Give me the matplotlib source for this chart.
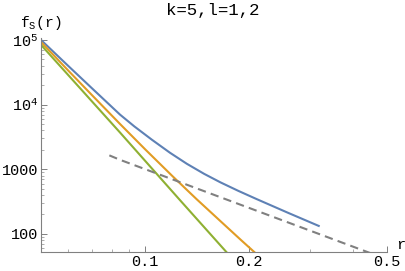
import numpy as np
import matplotlib
matplotlib.use('Agg')
import matplotlib.pyplot as plt
from matplotlib.ticker import FixedLocator, NullFormatter

# values (log-log)
blue_r = [0.05, 0.06, 0.07, 0.0846, 0.093, 0.1046, 0.118, 0.132, 0.148, 0.165,
          0.186, 0.2105, 0.26, 0.3175]
blue_f = [100000, 39450, 18130, 7000, 4613, 2862, 1799, 1215, 851, 628,
          463, 344, 210, 133]

orange_r = [0.05, 0.06, 0.07, 0.0846, 0.1, 0.12, 0.141, 0.165, 0.189, 0.212]
orange_f = [93000, 33450, 14230, 5017, 2035, 781, 343, 158, 81, 46.5]

green_r = [0.05, 0.0846, 0.1263, 0.172, 0.176]
green_f = [84000, 3700, 330, 52, 46]

dashed_r = [0.0788, 0.0846, 0.45]
dashed_f = [1640, 1400, 50]

title = "k=5,l=1,2"
xticks = [0.1, 0.2, 0.5]
xtick_labels = ["0.1", "0.2", "0.5"]
yticks = [100, 1000, 1e4, 1e5]
ytick_labels = ["100", "1000", r"$\mathrm{10^4}$", r"$\mathrm{10^5}$"]

plt.rcParams['font.family'] = ['Liberation Mono', 'DejaVu Sans']
plt.rcParams['mathtext.fontset'] = 'custom'
plt.rcParams['mathtext.rm'] = 'Liberation Mono'
plt.rcParams['mathtext.it'] = 'Liberation Mono'

fig = plt.figure(figsize=(4.05, 2.71), dpi=100)
ax = fig.add_axes([0.1012, 0.069, 0.8543, 0.7897])

ax.plot(blue_r, blue_f, color='#5E81B5', lw=1.5)
ax.plot(orange_r, orange_f, color='#E19C24', lw=1.5)
ax.plot(green_r, green_f, color='#8FB032', lw=1.5)
ax.plot(dashed_r, dashed_f, color='#808080', lw=1.5, ls=(0, (4, 2.5)))

ax.set_xscale('log')
ax.set_yscale('log')
ax.set_xlim(0.05, 0.5)
ax.set_ylim(52, 1.06e5)

ax.spines['top'].set_visible(False)
ax.spines['right'].set_visible(False)
for s in ['left', 'bottom']:
    ax.spines[s].set_color('#808080')
    ax.spines[s].set_linewidth(0.8)

ax.xaxis.set_major_locator(FixedLocator(xticks))
ax.set_xticklabels(xtick_labels)
ax.xaxis.set_minor_locator(FixedLocator([0.06, 0.07, 0.08, 0.09, 0.3, 0.4]))
ax.xaxis.set_minor_formatter(NullFormatter())
ax.yaxis.set_major_locator(FixedLocator(yticks))
ax.set_yticklabels(ytick_labels)
ymin = [m * 10 ** e for e in range(1, 5) for m in range(2, 10)]
ax.yaxis.set_minor_locator(FixedLocator(ymin))
ax.yaxis.set_minor_formatter(NullFormatter())

ax.tick_params(which='major', direction='in', length=4, width=0.7, color='#808080',
               labelsize=11, pad=2)
ax.tick_params(which='minor', direction='in', length=2, width=0.6, color='#a0a0a0')

fig.text(0.526, 0.96, title, ha='center', va='center', fontsize=12.5)
fig.text(0.1, 0.915, r"$\mathrm{f_S(r)}$", ha='center', va='center', fontsize=10.5)
fig.text(0.99, 0.095, "r", ha='center', va='center', fontsize=11)

fig.savefig('out.png', dpi=100)
